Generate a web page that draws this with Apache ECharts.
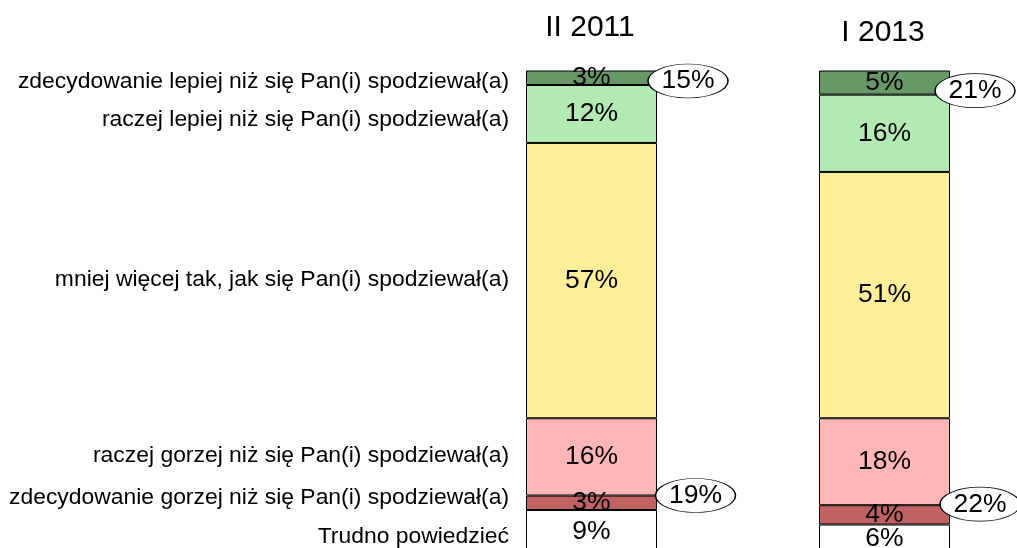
<!DOCTYPE html>
<html>
<head>
<meta charset="utf-8">
<script src="https://cdn.jsdelivr.net/npm/echarts@6/dist/echarts.min.js"></script>
<style>
  html, body { margin: 0; padding: 0; background: #ffffff; }
  #chart { width: 1017px; height: 548px; }
</style>
</head>
<body>
<div id="chart"></div>
<script>
// Survey waves (one stacked bar each)
const periods = ['II 2011', 'I 2013'];

// Answer categories, top of the bar to the bottom
const answers = [
  'zdecydowanie lepiej niż się Pan(i) spodziewał(a)',
  'raczej lepiej niż się Pan(i) spodziewał(a)',
  'mniej więcej tak, jak się Pan(i) spodziewał(a)',
  'raczej gorzej niż się Pan(i) spodziewał(a)',
  'zdecydowanie gorzej niż się Pan(i) spodziewał(a)',
  'Trudno powiedzieć'
];

// Shares in percent, per wave
const muchBetter     = [3, 5];
const ratherBetter   = [12, 16];
const asExpected     = [57, 51];
const ratherWorse    = [16, 18];
const muchWorse      = [3, 4];
const hardToSay      = [9, 6];

const shares = [muchBetter, ratherBetter, asExpected, ratherWorse, muchWorse, hardToSay];
const colors = ['#669966', '#b3e9b3', '#ffef99', '#ffb6b6', '#c06262', '#ffffff'];

const FONT = "'Liberation Sans', Arial, sans-serif";

// Placement of the text pieces (pixels); the plot runs past the lower edge
const layout = {
  grid: { left: 445, top: 70.5, width: 586, height: 483, outerBoundsMode: 'none', containLabel: false },
  barWidth: 131,
  titleX: [590, 883],
  titleY: [27.5, 32.5],
  answerRight: 509,
  answerY: [82, 120, 280, 456, 498, 537],
  topBubbleOffset: [[96.5, -4], [90.5, -4]],
  bottomBubbleOffset: [[104, 0], [95.5, -1]]
};

const barSeries = shares.map((vals, k) => ({
  name: answers[k],
  type: 'bar',
  stack: 'all',
  barWidth: layout.barWidth,
  data: vals,
  itemStyle: { color: colors[k], borderColor: '#000000', borderWidth: 1 },
  label: {
    show: true,
    position: 'inside',
    formatter: p => p.value + '%',
    color: '#000000',
    fontSize: 26.5,
    fontFamily: FONT
  },
  emphasis: { disabled: true },
  z: 2
}));

// Net shares: better (two top answers) and worse (two lower answers)
const bubbleData = [];
periods.forEach((_, i) => {
  bubbleData.push({
    value: [i, muchBetter[i]],
    total: muchBetter[i] + ratherBetter[i],
    symbolOffset: layout.topBubbleOffset[i]
  });
  bubbleData.push({
    value: [i, muchBetter[i] + ratherBetter[i] + asExpected[i] + ratherWorse[i]],
    total: ratherWorse[i] + muchWorse[i],
    symbolOffset: layout.bottomBubbleOffset[i]
  });
});

const bubbleSeries = {
  type: 'scatter',
  data: bubbleData,
  symbol: 'circle',
  symbolSize: [80, 34],
  clip: false,
  itemStyle: { color: '#ffffff', borderColor: '#000000', borderWidth: 1, opacity: 1 },
  label: {
    show: true,
    position: 'inside',
    formatter: p => p.data.total + '%',
    color: '#000000',
    fontSize: 26.5,
    fontFamily: FONT
  },
  emphasis: { disabled: true },
  z: 5
};

const graphics = [];
periods.forEach((name, i) => {
  graphics.push({
    type: 'text',
    x: layout.titleX[i],
    y: layout.titleY[i],
    style: {
      text: name,
      fill: '#000000',
      font: '30px ' + FONT,
      textAlign: 'center',
      textVerticalAlign: 'middle'
    }
  });
});
answers.forEach((name, k) => {
  graphics.push({
    type: 'text',
    x: layout.answerRight,
    y: layout.answerY[k],
    style: {
      text: name,
      fill: '#000000',
      font: '22.9px ' + FONT,
      textAlign: 'right',
      textVerticalAlign: 'middle'
    }
  });
});

const chart = echarts.init(document.getElementById('chart'), null, { renderer: 'canvas' });
chart.setOption({
  animation: false,
  backgroundColor: '#ffffff',
  grid: layout.grid,
  xAxis: {
    type: 'category',
    data: periods,
    show: false
  },
  yAxis: {
    type: 'value',
    min: 0,
    max: 100,
    inverse: true,
    show: false
  },
  series: [...barSeries, bubbleSeries],
  graphic: graphics
});
</script>
</body>
</html>
